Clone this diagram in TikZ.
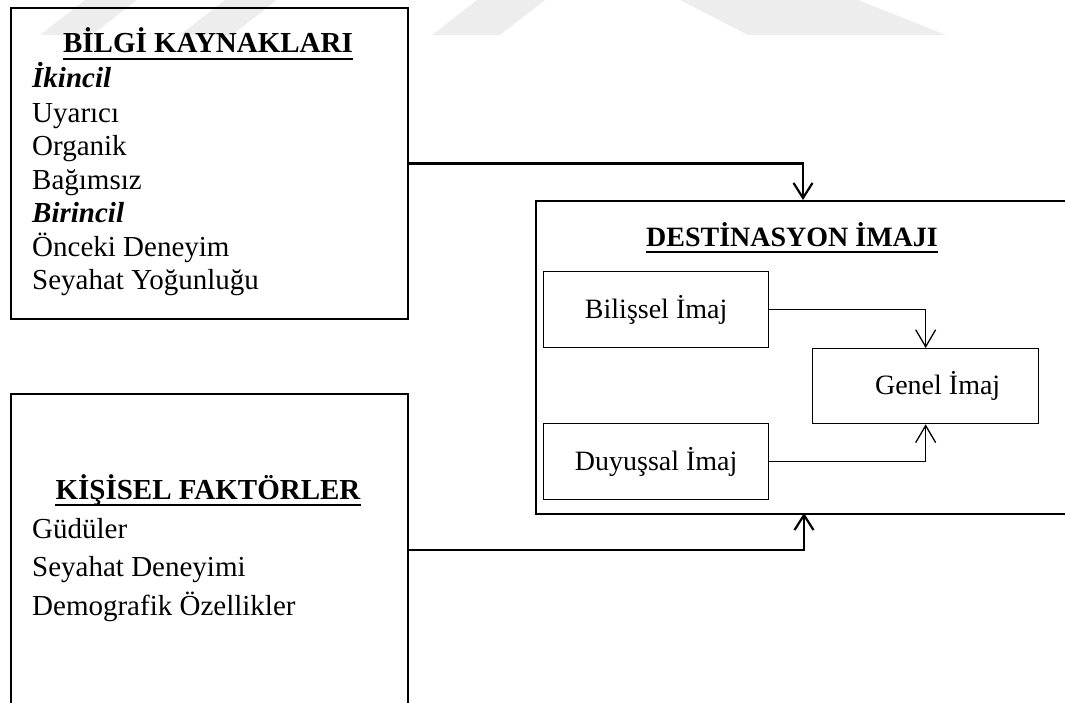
\documentclass[tikz,border=0pt]{standalone}
\usepackage{fontspec}
\newfontfamily\tnr{Liberation Serif}
\usetikzlibrary{arrows.meta}
\begin{document}
\begin{tikzpicture}[x=1pt,y=-1pt,
  outerbox/.style={draw, line width=2pt, rectangle, inner sep=0pt, anchor=north west},
  innerbox/.style={draw, line width=1.3pt, rectangle, inner sep=0pt, anchor=north west,
    minimum width=225pt, minimum height=76pt, font=\tnr\fontsize{28}{32}\selectfont},
  heading/.style={anchor=base, inner sep=0pt, font=\tnr\fontsize{29}{34}\selectfont\bfseries},
  entry/.style={anchor=base west, inner sep=0pt, font=\tnr\fontsize{29}{34}\selectfont},
  subhead/.style={entry, font=\tnr\fontsize{29}{34}\selectfont\bfseries\itshape},
  uline/.style={line width=2pt},
  feed/.style={line width=2.2pt, -{Straight Barb[length=15pt,width=19pt,line width=2.2pt]}},
  link/.style={line width=1.3pt, -{Straight Barb[length=17pt,width=20pt,line width=1.3pt]}},
  faint/.style={fill=black!7}
]
\useasboundingbox (0,0) rectangle (1065,703);
\clip (0,0) rectangle (1065,703);

% light background stripes along the top edge
\fill[faint] (40,35) -- (92,35) -- (137,0) -- (85,0) -- cycle;
\fill[faint] (180,35) -- (232,35) -- (277,0) -- (225,0) -- cycle;
\fill[faint] (432,35) -- (500,35) -- (545,0) -- (477,0) -- cycle;
\fill[faint] (680,0) -- (858,0) -- (946,35) -- (748,35) -- cycle;

% information sources
\node[outerbox, minimum width=397pt, minimum height=311pt] (bilgi) at (10,7) {};
\node[heading] (tbilgi) at (208,53) {BİLGİ KAYNAKLARI};
\draw[uline] ([yshift=-6pt]tbilgi.base west) -- ([yshift=-6pt]tbilgi.base east);
\node[subhead] (b1) at (32,88) {İkincil};
\node[entry] (b2) at (32,123) {Uyarıcı};
\node[entry] (b3) at (32,156) {Organik};
\node[entry] (b4) at (32,190) {Bağımsız};
\node[subhead] (b5) at (32,223) {Birincil};
\node[entry] (b6) at (32,257) {Önceki Deneyim};
\node[entry] (b7) at (32,290) {Seyahat Yoğunluğu};

% personal factors
\node[outerbox, minimum width=397pt, minimum height=312pt] (kisisel) at (10,393) {};
\node[heading] (tkisisel) at (208,499) {KİŞİSEL FAKTÖRLER};
\draw[uline] ([yshift=-6pt]tkisisel.base west) -- ([yshift=-6pt]tkisisel.base east);
\node[entry] (k1) at (32,538) {Güdüler};
\node[entry] (k2) at (32,576) {Seyahat Deneyimi};
\node[entry] (k3) at (32,615) {Demografik Özellikler};

% destination image
\node[outerbox, minimum width=560pt, minimum height=313pt] (dest) at (535,200) {};
\node[heading, font=\tnr\fontsize{28}{32}\selectfont\bfseries] (tdest) at (792,247) {DESTİNASYON İMAJI};
\draw[uline] ([yshift=-5pt]tdest.base west) -- ([yshift=-5pt]tdest.base east);
\node[innerbox] (bilissel) at (543,271) {Bilişsel İmaj};
\node[innerbox] (duyussal) at (543,423) {Duyuşsal İmaj};
\node[innerbox, minimum width=226pt, minimum height=75pt] (genel) at (812,348) {\hspace*{24pt}Genel İmaj};

% connectors
\coordinate (topin) at (803,200);
\coordinate (botin) at (804,513);
\draw[feed] (bilgi.east) -| (topin);
\draw[feed] (kisisel.east) -| (botin);
\draw[link] (bilissel.east) -| (genel.north);
\draw[link] (duyussal.east) -| (genel.south);
\end{tikzpicture}
\end{document}
